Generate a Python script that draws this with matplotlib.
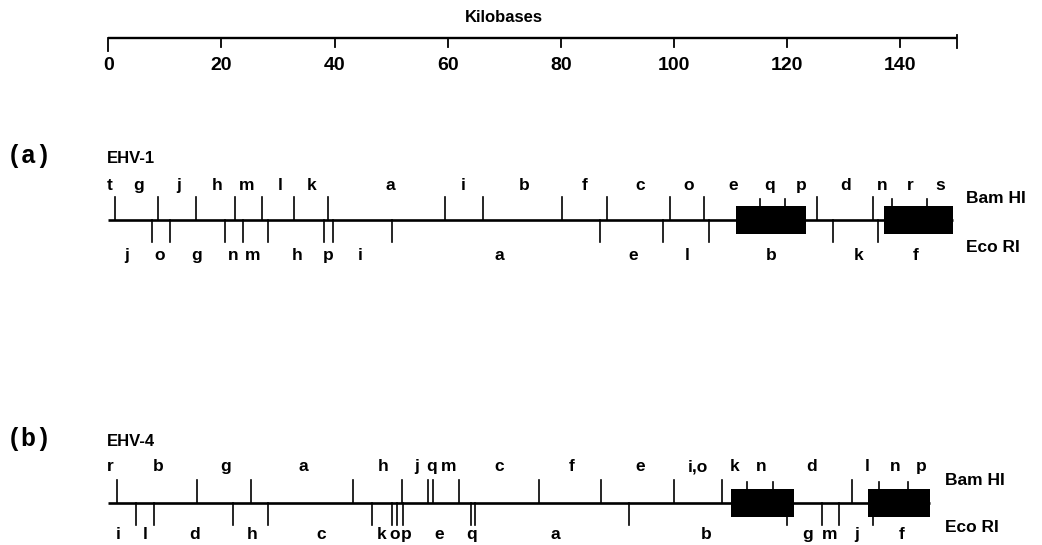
import matplotlib
matplotlib.use("Agg")
import matplotlib.pyplot as plt
from matplotlib.patches import Rectangle

# scale bar (kilobases)
scale_ticks = [0, 20, 40, 60, 80, 100, 120, 140]
scale_end = 150

# EHV-1 map
ehv1_length = 149.3
ehv1_boxes = [(111.0, 123.4), (137.2, 149.3)]
ehv1_bam_cuts = [1.2, 8.8, 15.5, 22.4, 27.1, 32.9, 38.8, 59.5, 66.2, 80.2, 88.2,
                 99.4, 105.3, 115.2, 119.6, 125.3, 135.3, 138.6, 144.7]
ehv1_eco_cuts = [7.7, 10.9, 20.6, 23.9, 28.2, 38.1, 39.8, 50.2, 86.9, 98.1, 106.2,
                 128.2, 136.1]
ehv1_bam_names = ['t', 'g', 'j', 'h', 'm', 'l', 'k', 'a', 'i', 'b', 'f', 'c', 'o',
                  'e', 'q', 'p', 'd', 'n', 'r', 's']
ehv1_bam_name_pos = [0.3, 5.3, 12.5, 19.3, 24.5, 30.4, 35.9, 49.9, 62.8, 73.5, 84.3,
                     94.0, 102.6, 110.5, 117.0, 122.6, 130.3, 136.9, 141.9, 147.1]
ehv1_eco_names = ['j', 'o', 'g', 'n', 'm', 'h', 'p', 'i', 'a', 'e', 'l', 'b', 'k', 'f']
ehv1_eco_name_pos = [3.3, 9.1, 15.6, 22.1, 25.6, 33.4, 38.9, 44.5, 69.1, 92.8, 102.3,
                     117.2, 132.6, 142.8]

# EHV-4 map
ehv4_length = 145.3
ehv4_boxes = [(110.1, 121.2), (134.3, 145.3)]
ehv4_bam_cuts = [1.5, 15.6, 25.3, 43.3, 52.0, 56.6, 57.4, 62.1, 76.2, 87.1, 100.0,
                 108.5, 112.9, 117.5, 131.5, 136.3, 141.5]
ehv4_eco_cuts = [4.9, 8.0, 22.1, 28.2, 46.6, 50.2, 51.1, 52.2, 64.1, 64.8, 92.0,
                 120.0, 126.2, 129.3, 135.2]
ehv4_bam_names = ['r', 'b', 'g', 'a', 'h', 'j', 'q', 'm', 'c', 'f', 'e', 'i,o', 'k',
                  'n', 'd', 'l', 'n', 'p']
ehv4_bam_name_pos = [0.3, 8.8, 20.8, 34.5, 48.6, 54.5, 57.2, 60.1, 69.1, 81.9, 94.0,
                     104.3, 110.8, 115.4, 124.4, 134.2, 139.1, 143.8]
ehv4_eco_names = ['i', 'l', 'd', 'h', 'c', 'k', 'o', 'p', 'e', 'q', 'a', 'b', 'g',
                  'm', 'j', 'f']
ehv4_eco_name_pos = [1.8, 6.5, 15.3, 25.4, 37.7, 48.3, 50.7, 52.6, 58.5, 64.3, 79.0,
                     105.7, 123.6, 127.6, 132.3, 140.3]

W, H = 1042, 545
X0, KB = 108.3, 5.655   # pixel of 0 kb, pixels per kb


def px(x):
    # pixel column -> kb, for placing free text
    return (x - X0) / KB


SANS = ['Liberation Sans', 'DejaVu Sans']

fig = plt.figure(figsize=(W / 100, H / 100), dpi=100)
ax = fig.add_axes([0, 0, 1, 1])
ax.set_xlim(px(0), px(W))
ax.set_ylim(H, 0)
ax.axis('off')

# scale bar
ax.plot([0, scale_end], [37.5, 37.5], color='black', lw=1.7, solid_capstyle='butt')
for t in scale_ticks:
    ax.plot([t, t], [37.5, 47 if t else 51], color='black', lw=1.3)
    ax.text(t, 70, str(t), ha='center', va='baseline', fontsize=14,
            fontweight='bold', family=SANS)
ax.plot([scale_end, scale_end], [35, 48], color='black', lw=1.3)
ax.text(70, 22, 'Kilobases', ha='center', va='baseline', fontsize=12,
        fontweight='bold', family=SANS)


def draw_map(y, length, boxes, bam, eco, bam_names, bam_pos, eco_names, eco_pos,
             name, tag, lab_x, base_up, base_dn, side_up, side_dn):
    top, bot = y - 14.5, y + 13.5
    ax.plot([0, length], [y, y], color='black', lw=1.9, solid_capstyle='butt')
    for a, b in boxes:
        ax.add_patch(Rectangle((a, top), b - a, bot - top, color='black', lw=0))
    for c in bam:
        if any(a <= c <= b for a, b in boxes):
            ax.plot([c, c], [top, top - 7], color='black', lw=1.2)
        else:
            ax.plot([c, c], [y, y - 23], color='black', lw=1.2)
    for c in eco:
        if any(a <= c <= b for a, b in boxes):
            ax.plot([c, c], [bot, bot + 8], color='black', lw=1.2)
        else:
            ax.plot([c, c], [y, y + 22], color='black', lw=1.2)
    for s, p in zip(bam_names, bam_pos):
        ax.text(p, base_up, s, ha='center', va='baseline', fontsize=12.5,
                fontweight='bold', family=SANS)
    for s, p in zip(eco_names, eco_pos):
        ax.text(p, base_dn, s, ha='center', va='baseline', fontsize=12.5,
                fontweight='bold', family=SANS)
    ax.text(px(lab_x), side_up, 'Bam HI', ha='left', va='baseline', fontsize=12.5,
            fontweight='bold', family=SANS)
    ax.text(px(lab_x), side_dn, 'Eco RI', ha='left', va='baseline', fontsize=12.5,
            fontweight='bold', family=SANS)
    ax.text(px(107), y - 57, name, ha='left', va='baseline', fontsize=12,
            fontweight='bold', family=SANS)
    ax.text(px(29), y - 64, tag, ha='center', va='center', fontsize=18,
            fontweight='bold', family=['Liberation Mono', 'DejaVu Sans Mono'])


draw_map(220, ehv1_length, ehv1_boxes, ehv1_bam_cuts, ehv1_eco_cuts,
         ehv1_bam_names, ehv1_bam_name_pos, ehv1_eco_names, ehv1_eco_name_pos,
         'EHV-1', '(a)', 966, 190, 260, 203, 252)
draw_map(503, ehv4_length, ehv4_boxes, ehv4_bam_cuts, ehv4_eco_cuts,
         ehv4_bam_names, ehv4_bam_name_pos, ehv4_eco_names, ehv4_eco_name_pos,
         'EHV-4', '(b)', 945, 471, 539, 485, 532)

fig.savefig('out.png', dpi=100)
